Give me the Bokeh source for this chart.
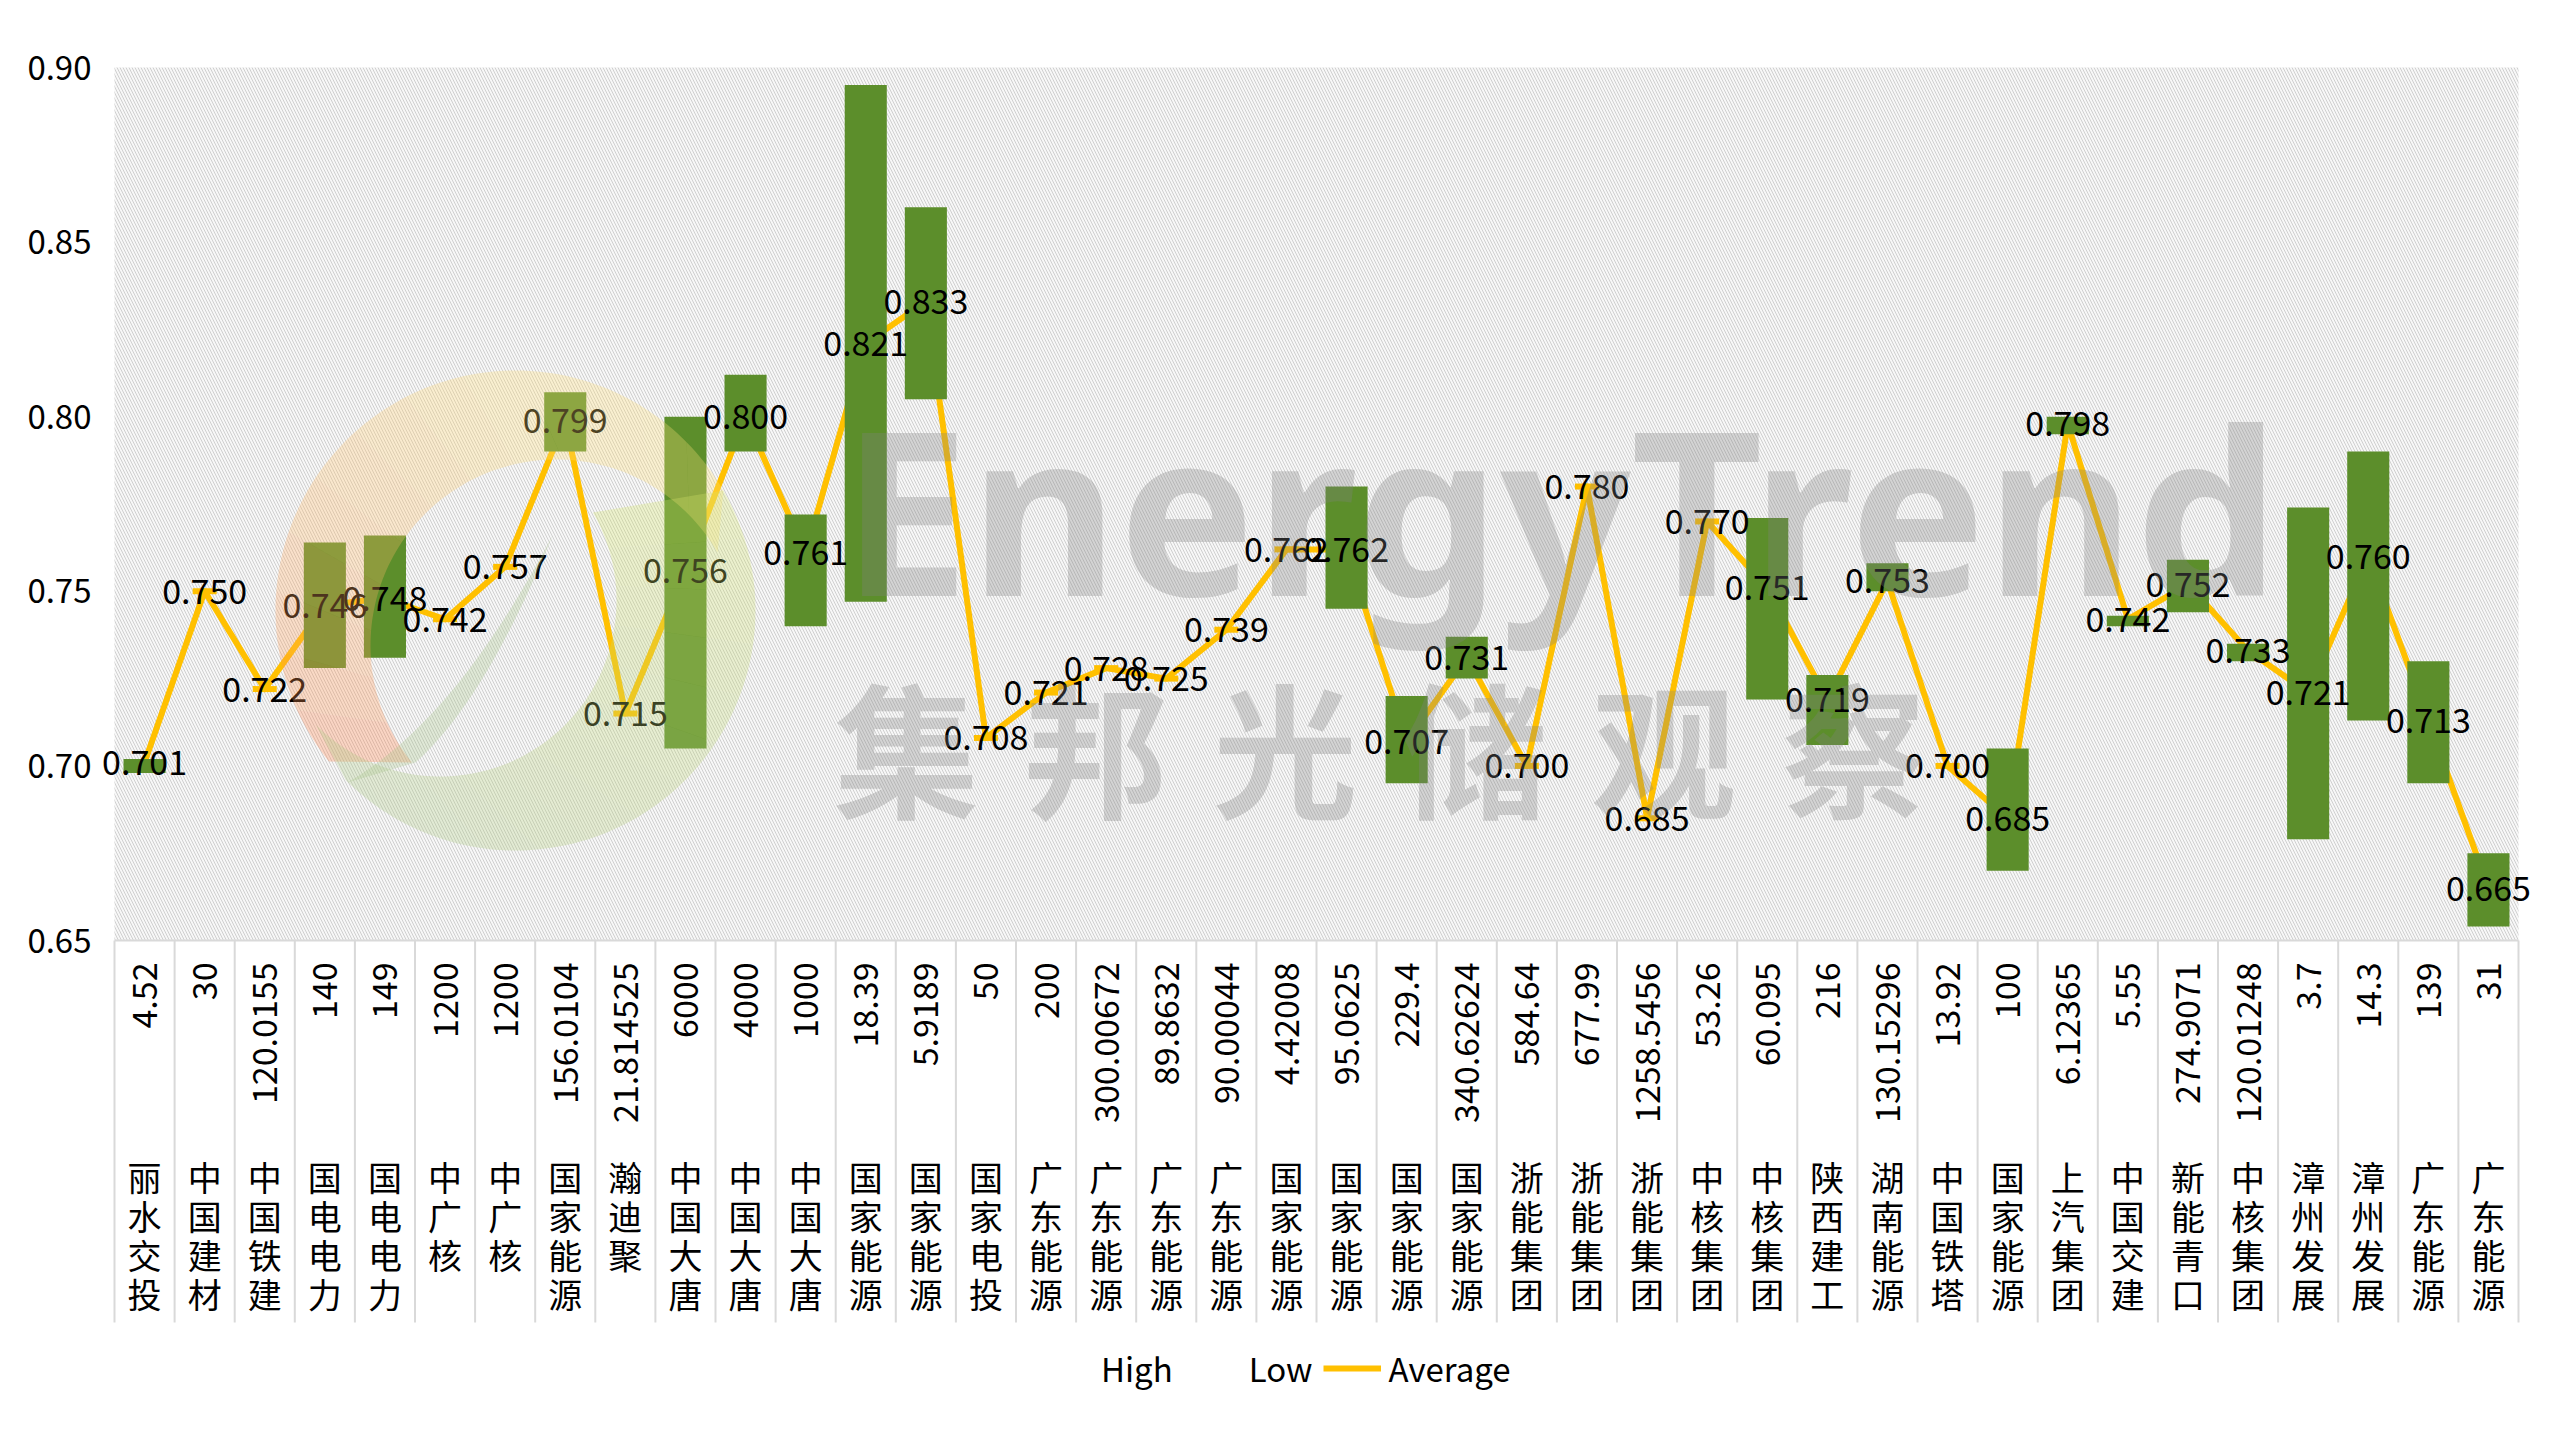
import numpy as np
from bokeh.plotting import figure
from bokeh.models import Range1d, Legend, LegendItem
from bokeh.core.properties import value
from bokeh.embed import file_html
from bokeh.resources import INLINE

# ---------------- data ----------------
names = ["丽水交投", "中国建材", "中国铁建", "国电电力", "国电电力", "中广核", "中广核",
         "国家能源", "瀚迪聚", "中国大唐", "中国大唐", "中国大唐", "国家能源", "国家能源",
         "国家电投", "广东能源", "广东能源", "广东能源", "广东能源", "国家能源", "国家能源",
         "国家能源", "国家能源", "浙能集团", "浙能集团", "浙能集团", "中核集团", "中核集团",
         "陕西建工", "湖南能源", "中国铁塔", "国家能源", "上汽集团", "中国交建", "新能青口",
         "中核集团", "漳州发展", "漳州发展", "广东能源", "广东能源"]
capacity = ["4.52", "30", "120.0155", "140", "149", "1200", "1200", "156.0104", "21.814525",
            "6000", "4000", "1000", "18.39", "5.9189", "50", "200", "300.00672", "89.8632",
            "90.00044", "4.42008", "95.0625", "229.4", "340.62624", "584.64", "677.99",
            "1258.5456", "53.26", "60.095", "216", "130.15296", "13.92", "100", "6.12365",
            "5.55", "274.9071", "120.01248", "3.7", "14.3", "139", "31"]
average = [0.701, 0.750, 0.722, 0.746, 0.748, 0.742, 0.757, 0.799, 0.715, 0.756,
           0.800, 0.761, 0.821, 0.833, 0.708, 0.721, 0.728, 0.725, 0.739, 0.762,
           0.762, 0.707, 0.731, 0.700, 0.780, 0.685, 0.770, 0.751, 0.719, 0.753,
           0.700, 0.685, 0.798, 0.742, 0.752, 0.733, 0.721, 0.760, 0.713, 0.665]
high = [0.702, 0.750, 0.722, 0.764, 0.766, 0.742, 0.757, 0.807, 0.715, 0.800,
        0.812, 0.772, 0.895, 0.860, 0.708, 0.721, 0.728, 0.725, 0.739, 0.762,
        0.780, 0.720, 0.737, 0.700, 0.780, 0.685, 0.770, 0.771, 0.726, 0.758,
        0.700, 0.705, 0.800, 0.743, 0.759, 0.735, 0.774, 0.790, 0.730, 0.675]
low = [0.698, 0.750, 0.722, 0.728, 0.731, 0.742, 0.757, 0.790, 0.715, 0.705,
       0.790, 0.740, 0.747, 0.805, 0.708, 0.721, 0.728, 0.725, 0.739, 0.762,
       0.745, 0.695, 0.725, 0.700, 0.780, 0.685, 0.770, 0.719, 0.706, 0.750,
       0.700, 0.670, 0.795, 0.740, 0.744, 0.730, 0.679, 0.713, 0.695, 0.654]
y_ticks = [0.65, 0.70, 0.75, 0.80, 0.85, 0.90]

# ---------------- layout helpers (pixel positions of the plot area) ----------------
N = len(names)
W, H = 2544, 1424
AREA_L, AREA_R, AREA_T, AXIS_Y = 114, 2518, 67, 940
Y_TOP, Y_AXIS = 0.90, 0.65
PX_PER_UNIT = (AXIS_Y - AREA_T) / (Y_TOP - Y_AXIS)
CAT_PX = (AREA_R - AREA_L) / N


def fx(px):
    return (np.asarray(px, dtype=float) - AREA_L) / CAT_PX


def fy(py):
    return Y_TOP - (np.asarray(py, dtype=float) - AREA_T) / PX_PER_UNIT


xs = np.arange(N) + 0.5
FONT = "Noto Sans CJK SC"

p = figure(width=W, height=H, output_backend="svg", toolbar_location=None,
           x_range=Range1d(float(fx(0)), float(fx(W))), y_range=Range1d(float(fy(H)), float(fy(0))),
           min_border=0, x_axis_location=None, y_axis_location=None)
p.xgrid.visible = False
p.ygrid.visible = False
p.outline_line_color = None
p.background_fill_color = "white"
p.border_fill_color = "white"

# hatched plot area
p.quad(left=0, right=N, bottom=Y_AXIS, top=Y_TOP, fill_color="#f7f7f7", line_color=None,
       hatch_pattern="\\", hatch_color="#cfcfcf", hatch_scale=6, hatch_weight=1)

# value axis labels
p.text(x=float(fx(91)), y=y_ticks, text=[f"{t:.2f}" for t in y_ticks], text_align="right",
       text_baseline="middle", text_font=value(FONT), text_font_size="33px", text_color="black")

# average line
r_avg = p.line(xs, average, line_color="#FFC000", line_width=6, line_join="round")
p.scatter(xs, average, marker="dash", size=24, line_color="#FFC000", line_width=6)

# high-low bars
p.vbar(x=xs, width=0.7, bottom=low, top=high, fill_color="#5C8E2B", line_color=None)

# invisible series for legend
r_high = p.line(xs, high, line_alpha=0)
r_low = p.line(xs, low, line_alpha=0)

# data labels
p.text(x=xs, y=average, text=[f"{v:.3f}" for v in average], text_align="center",
       text_baseline="middle", text_font=value(FONT), text_font_size="34px", text_color="black")

# category axis
p.segment(x0=[0], y0=[Y_AXIS], x1=[N], y1=[Y_AXIS], line_color="#d9d9d9", line_width=2)
sep = np.arange(N + 1)
p.segment(x0=sep, y0=Y_AXIS, x1=sep, y1=float(fy(1322)), line_color="#d9d9d9", line_width=2)
p.text(x=xs, y=float(fy(962)), text=capacity, angle=np.pi / 2, text_align="right",
       text_baseline="middle", text_font=value(FONT), text_font_size="34px", text_color="black")
p.text(x=xs, y=float(fy(1151)), text=["\n".join(n) for n in names], text_align="center",
       text_baseline="top", text_line_height=0.8, text_font=value(FONT),
       text_font_size="34px", text_color="black")

# ---------------- watermark ----------------
def interp_color(stops, t):
    for (a0, c0), (a1, c1) in zip(stops[:-1], stops[1:]):
        if a0 <= t <= a1:
            f = (t - a0) / (a1 - a0)
            c = [int(round(c0[i] + f * (c1[i] - c0[i]))) for i in range(3)]
            return "#%02x%02x%02x" % tuple(c)
    return "#%02x%02x%02x" % tuple(stops[-1][1])


def crescent(co, ro, ci, ri, t0, t1, n=10):
    tt = np.radians(np.linspace(t0, t1, n))
    ox = co[0] + ro * np.cos(tt)
    oy = co[1] - ro * np.sin(tt)
    ix = ci[0] + ri * np.cos(tt[::-1])
    iy = ci[1] - ri * np.sin(tt[::-1])
    return list(fx(np.concatenate([ox, ix]))), list(fy(np.concatenate([oy, iy])))


wx, wy, wc = [], [], []
up_stops = [(30, (255, 225, 120)), (100, (255, 222, 120)), (180, (255, 165, 95)), (220, (255, 125, 70))]
edges = np.linspace(30, 219, 14)
for a, b in zip(edges[:-1], edges[1:]):
    x_, y_ = crescent((515, 610), 240, (556, 645), 186, a, b)
    wx.append(x_); wy.append(y_); wc.append(interp_color(up_stops, (a + b) / 2))
gr_stops = [(225, (170, 200, 135)), (300, (185, 210, 125)), (390, (215, 228, 105))]
edges = np.linspace(225, 390, 14)
for a, b in zip(edges[:-1], edges[1:]):
    x_, y_ = crescent((515, 610), 240, (440, 600), 176, a, b)
    wx.append(x_); wy.append(y_); wc.append(interp_color(gr_stops, (a + b) / 2))
t = np.linspace(0, 1, 20)
lx = (1 - t) ** 2 * 552 + 2 * (1 - t) * t * 455 + t ** 2 * 347
ly = (1 - t) ** 2 * 535 + 2 * (1 - t) * t * 720 + t ** 2 * 782
rx = (1 - t) ** 2 * 415 + 2 * (1 - t) * t * 485 + t ** 2 * 552
ry = (1 - t) ** 2 * 762 + 2 * (1 - t) * t * 700 + t ** 2 * 535
wx.append(list(fx(np.concatenate([lx, rx])))); wy.append(list(fy(np.concatenate([ly, ry]))))
wc.append("#aac88a")
p.patches(xs=wx, ys=wy, fill_color=wc, fill_alpha=0.3, line_color=None)

p.text(x=[float(fx(841))], y=[float(fy(506))], text=["EnergyTrend"], text_align="left",
       text_baseline="alphabetic", text_font=value("Noto Sans"), text_font_style="bold",
       text_font_size="229px", text_color="#808080", text_alpha=0.3)
p.text(x=list(fx([906 + i * 189.4 for i in range(6)])), y=[float(fy(744))] * 6,
       text=list("集邦光储观察"), text_align="center", text_baseline="middle",
       text_font=value(FONT), text_font_style="bold", text_font_size="145px",
       text_color="#808080", text_alpha=0.3)

# ---------------- legend ----------------
legend = Legend(items=[LegendItem(label="High", renderers=[r_high]),
                       LegendItem(label="Low", renderers=[r_low]),
                       LegendItem(label="Average", renderers=[r_avg])],
                orientation="horizontal", location=(1035, 32), glyph_width=58, glyph_height=30,
                label_standoff=8, spacing=10, padding=0, margin=0,
                border_line_color=None, background_fill_alpha=0,
                label_text_font=FONT, label_text_font_size="33px", label_text_color="black")
p.add_layout(legend)

open("out.html", "w").write(file_html(p, INLINE))
